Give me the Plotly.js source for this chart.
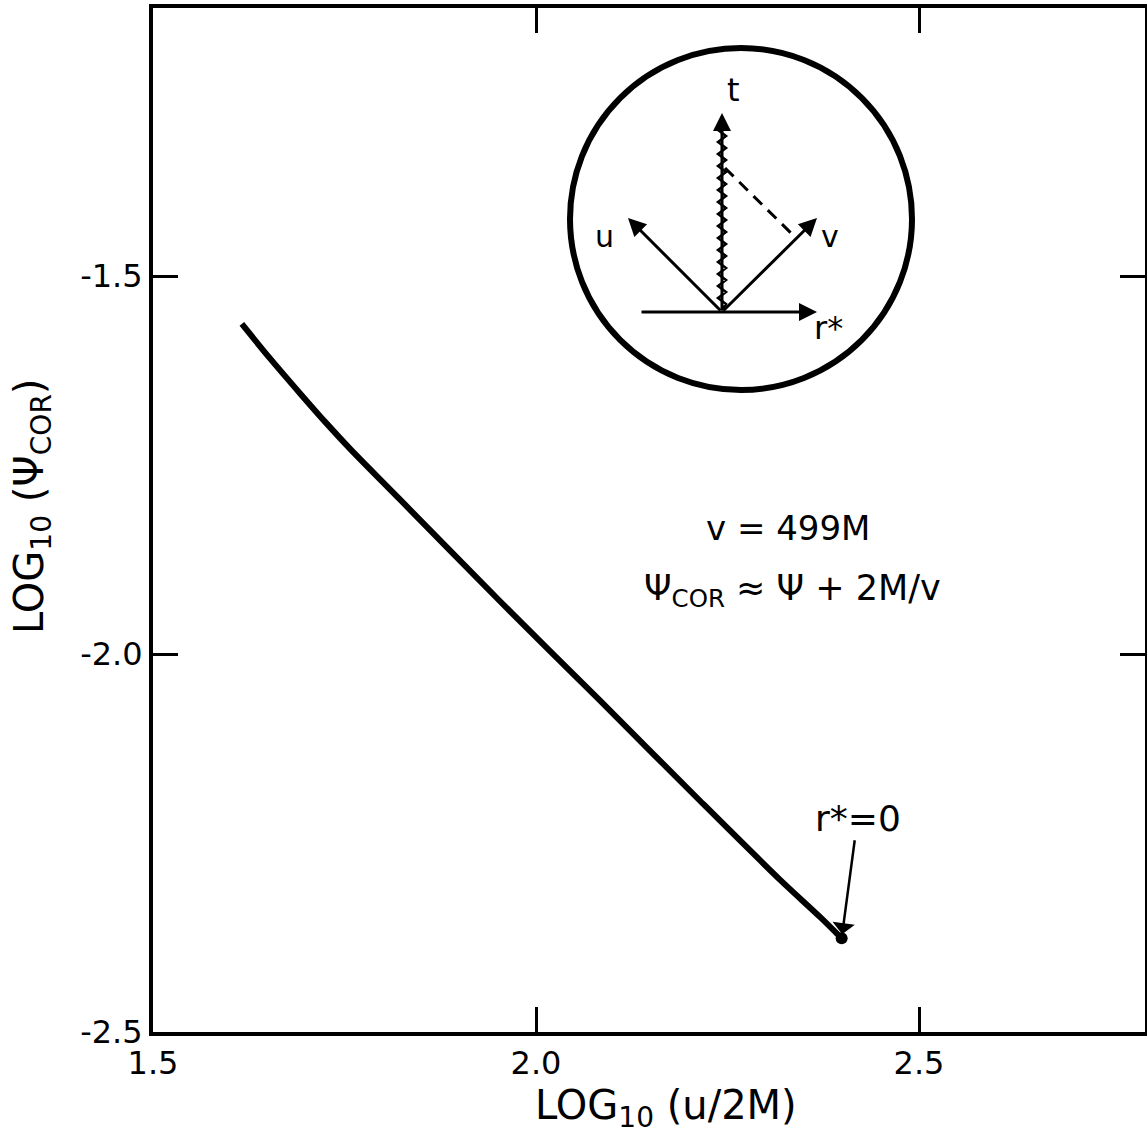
<!DOCTYPE html>
<html>
<head>
<meta charset="utf-8">
<script src="https://cdn.plot.ly/plotly-3.0.1.min.js"></script>
<style>html,body{margin:0;padding:0;background:#fff;}#chart{width:1147px;height:1146px;}</style>
</head>
<body>
<div id="chart"></div>
<script>
// Data
const logU = [1.616, 1.653, 1.692, 1.725, 1.757, 1.822, 1.953, 2.084, 2.214, 2.319, 2.371, 2.399];
const logPsi = [-1.563, -1.609, -1.655, -1.693, -1.728, -1.795, -1.930, -2.062, -2.194, -2.299, -2.348, -2.376];
const xTickVals = [1.5, 2.0, 2.5];
const xTickText = ["1.5", "2.0", "2.5"];
const yTickVals = [-2.5, -2.0, -1.5];
const yTickText = ["-2.5", "-2.0", "-1.5"];

const FONT = "DejaVu Sans, sans-serif";
const W = 1147, H = 1146;
const L = 153, R = 2, T = 8, B = 114;
const pw = W - L - R, ph = H - T - B;
// pixel -> paper helpers for the inset diagram and free texts
const px = v => (v - L) / pw;
const py = v => 1 - (v - T) / ph;

// zigzag for the singular t-axis
let zz = "M " + px(722) + "," + py(310);
let flip = 1;
for (let yy = 304; yy >= 124; yy -= 6) {
  zz += " L " + px(722 + 4 * flip) + "," + py(yy);
  flip = -flip;
}

const traces = [
  {x: logU, y: logPsi, mode: "lines", line: {color: "#000", width: 6, shape: "spline", smoothing: 0.8}, hoverinfo: "skip"},
  {x: [logU[logU.length - 1]], y: [logPsi[logPsi.length - 1]], mode: "markers",
   marker: {color: "#000", size: 12}, hoverinfo: "skip"}
];

const arrowCommon = {xref: "paper", yref: "paper", axref: "pixel", ayref: "pixel", text: "",
  showarrow: true, arrowhead: 2, arrowsize: 1.2, arrowwidth: 3, arrowcolor: "#000"};
const txt = (x, y, t, s, extra) => Object.assign({xref: "paper", yref: "paper", x: px(x), y: py(y), text: t,
  xanchor: "center", yanchor: "middle",
  showarrow: false, font: {family: FONT, size: s, color: "#000"}}, extra || {});

const annotations = [
  Object.assign({}, arrowCommon, {x: px(817), y: py(312), ax: -177, ay: 0}),
  Object.assign({}, arrowCommon, {x: px(628), y: py(218), ax: 94, ay: 94}),
  Object.assign({}, arrowCommon, {x: px(817), y: py(218), ax: -95, ay: 94}),
  Object.assign({}, arrowCommon, {x: px(722), y: py(113), ax: 0, ay: 199}),
  txt(733, 90, "t", 32),
  txt(604, 236, "u", 30),
  txt(830, 236, "v", 30),
  txt(828, 328, "r*", 32),
  txt(788, 528, "v = 499M", 34),
  txt(792, 590, "Ψ<sub>COR</sub> ≈ Ψ + 2M/v", 35),
  txt(666, 1108, "LOG<sub>10</sub> (u/2M)", 40),
  txt(32, 507, "LOG<sub>10</sub> (Ψ<sub>COR</sub>)", 40, {textangle: -90}),
  {x: logU[logU.length - 1], y: logPsi[logPsi.length - 1], xref: "x", yref: "y",
   text: "r*=0", showarrow: true, arrowhead: 1, arrowsize: 1.5, arrowwidth: 2.5, arrowcolor: "#000",
   standoff: 4, ax: 16, ay: -120, font: {family: FONT, size: 36, color: "#000"}}
];

const shapes = [
  {type: "circle", xref: "paper", yref: "paper", x0: px(570), x1: px(912), y0: py(390), y1: py(48),
   line: {color: "#000", width: 6}},
  {type: "path", xref: "paper", yref: "paper", path: zz, line: {color: "#000", width: 2.5}},
  {type: "line", xref: "paper", yref: "paper", x0: px(725), y0: py(168), x1: px(793), y1: py(235),
   line: {color: "#000", width: 3, dash: "12px,8px"}}
];

const axisCommon = {showline: true, linecolor: "#000", linewidth: 4, mirror: "ticks",
  ticks: "inside", ticklen: 25, tickwidth: 3, tickcolor: "#000", showgrid: false, zeroline: false,
  tickfont: {family: FONT, size: 32, color: "#000"}, tickmode: "array"};

const layout = {
  width: W, height: H,
  margin: {l: L, r: R, t: T, b: B, pad: 0},
  paper_bgcolor: "#fff", plot_bgcolor: "#fff",
  showlegend: false,
  xaxis: Object.assign({}, axisCommon, {range: [1.5, 2.795], tickvals: xTickVals, ticktext: xTickText}),
  yaxis: Object.assign({}, axisCommon, {range: [-2.5, -1.145], tickvals: yTickVals, ticktext: yTickText}),
  annotations: annotations,
  shapes: shapes
};

Plotly.newPlot("chart", traces, layout, {staticPlot: true, displayModeBar: false});
</script>
</body>
</html>
